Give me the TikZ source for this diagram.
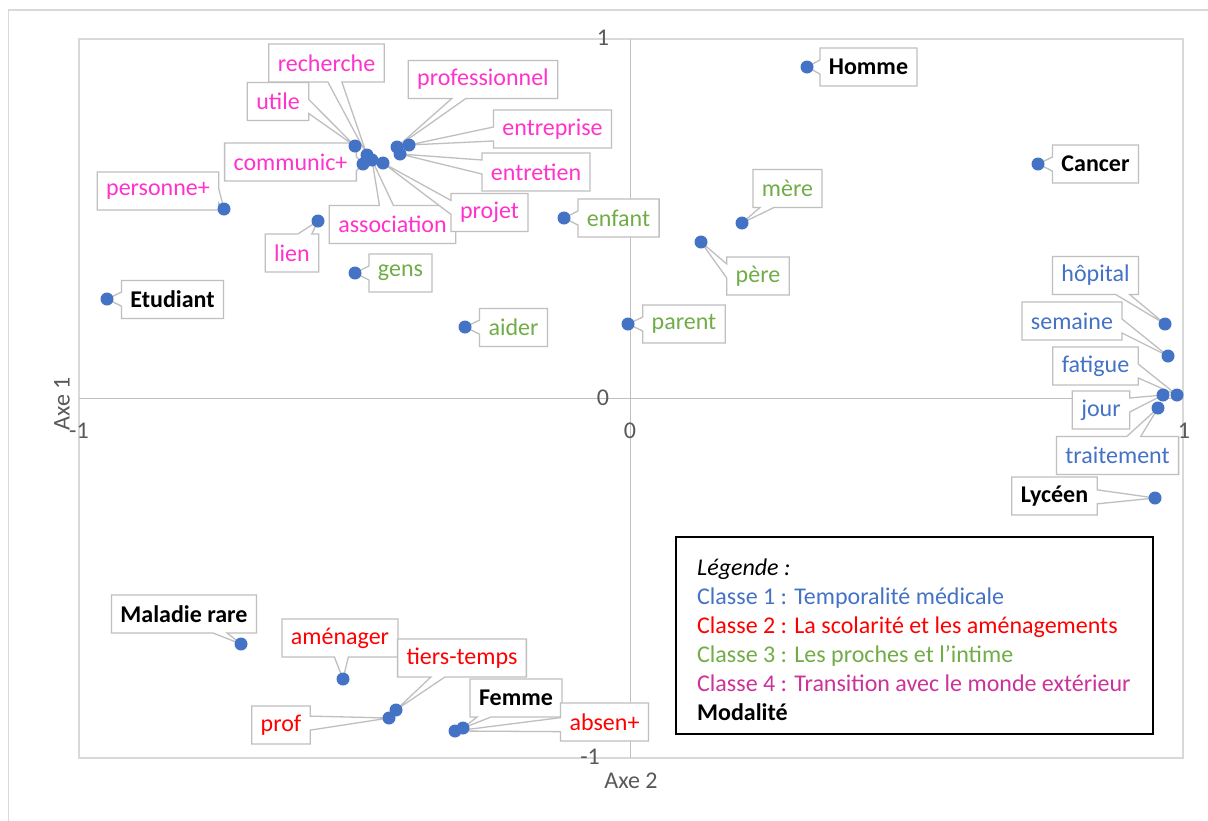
\documentclass[tikz,border=0pt]{standalone}
\usepackage{fontspec}
\setmainfont{Carlito}
\usetikzlibrary{shapes.callouts}
\definecolor{dotblue}{HTML}{4472C4}
\definecolor{labgray}{HTML}{BFBFBF}
\definecolor{framegray}{HTML}{D9D9D9}
\definecolor{axisgray}{HTML}{BFBFBF}
\definecolor{tickgray}{HTML}{595959}
\definecolor{pinkc}{HTML}{FF33CC}
\definecolor{legpink}{HTML}{CC3399}
\definecolor{greenc}{HTML}{70AD47}
\definecolor{bluec}{HTML}{4472C4}
\definecolor{redc}{HTML}{FF0000}
\newcommand{\labfont}{\fontsize{24}{28}\selectfont}
\begin{document}
\begin{tikzpicture}[x=1pt,y=-1pt,
  pt/.style={circle,fill=dotblue,inner sep=0pt,minimum size=13pt},
  lab/.style={rectangle callout,draw=labgray,fill=white,line width=1.3pt,
    inner xsep=9pt,inner ysep=2pt,minimum height=38pt,font=\labfont,
    callout pointer width=14pt},
  c4/.style={lab,text=pinkc},
  c3/.style={lab,text=greenc},
  c1/.style={lab,text=bluec},
  c2/.style={lab,text=redc},
  mo/.style={lab,text=black,font=\labfont\bfseries},
  tick/.style={text=tickgray,font=\labfont,inner sep=0pt},
  leg/.style={anchor=base west,font=\labfont,inner sep=0pt}]
\useasboundingbox (0,0) rectangle (1208,820);
\fill[white] (0,0) rectangle (1208,820);
% frames
\draw[framegray,line width=1.5pt] (8.5,10) rectangle (1220,840);
\draw[framegray,line width=1.5pt] (79,39) rectangle (1183,758);
% axes
\draw[axisgray,line width=1.5pt] (79,398.5) -- (1183,398.5);
\draw[axisgray,line width=1.5pt] (630.5,39) -- (630.5,758);
% tick labels
\node[tick] (ty1) at (603,38) {1};
\node[tick] (ty0) at (603,398) {0};
\node[tick] (tym) at (590,757) {-1};
\node[tick] (txm) at (79,431) {-1};
\node[tick] (tx0) at (630,431) {0};
\node[tick] (tx1) at (1184,431) {1};
\node[tick,rotate=90] (ax1) at (62,404) {Axe 1};
\node[tick] (ax2) at (631,781) {Axe 2};
% point positions
\coordinate (d1) at (224,209);
\coordinate (d2) at (318,221);
\coordinate (d3) at (355,146);
\coordinate (d4) at (367,155);
\coordinate (d5) at (363,164);
\coordinate (d6) at (372,160);
\coordinate (d7) at (383,163);
\coordinate (d8) at (397,147);
\coordinate (d9) at (409,145);
\coordinate (d10) at (400,154);
\coordinate (d11) at (355,273);
\coordinate (d12) at (465,327);
\coordinate (d13) at (564,218);
\coordinate (d14) at (742,223);
\coordinate (d15) at (701,242);
\coordinate (d16) at (628,324);
\coordinate (d17) at (107,299);
\coordinate (d18) at (807,67);
\coordinate (d19) at (1038,164);
\coordinate (d20) at (1155,498);
\coordinate (d21) at (241,644);
\coordinate (d22) at (463,728);
\coordinate (d23) at (1165,324);
\coordinate (d24) at (1168,356);
\coordinate (d25) at (1177,395);
\coordinate (d26) at (1163,395);
\coordinate (d27) at (1158,408);
\coordinate (d28) at (343,679);
\coordinate (d29) at (396,710);
\coordinate (d30) at (389,718);
\coordinate (d31) at (455,731);
% labels: classe 4
\node[c4,callout absolute pointer={(d1)}] (l1) at (158,191) {personne+};
\node[c4,callout absolute pointer={(d2)}] (l2) at (292,253) {lien};
\node[c4,callout absolute pointer={(d4)}] (l4) at (326.5,63) {recherche};
\node[c4,callout absolute pointer={(d3)}] (l3) at (278,101.5) {utile};
\node[c4,callout absolute pointer={(d5)}] (l5) at (290.5,162) {communic+};
\node[c4,callout absolute pointer={(d6)}] (l6) at (392.5,224.5) {association};
\node[c4,callout absolute pointer={(d7)}] (l7) at (489.5,212.5) {projet};
\node[c4,callout absolute pointer={(d8)}] (l8) at (483,79.5) {professionnel};
\node[c4,callout absolute pointer={(d9)}] (l9) at (552.5,129) {entreprise};
\node[c4,callout absolute pointer={(d10)}] (l10) at (536,172) {entretien};
% classe 3
\node[c3,callout absolute pointer={(d11)}] (l11) at (400.5,273) {gens};
\node[c3,callout absolute pointer={(d12)}] (l12) at (513.5,327.5) {aider};
\node[c3,callout absolute pointer={(d13)}] (l13) at (618.5,218) {enfant};
\node[c3,callout absolute pointer={(d14)}] (l14) at (787.5,188.5) {mère};
\node[c3,callout absolute pointer={(d15)}] (l15) at (758,276) {père};
\node[c3,callout absolute pointer={(d16)}] (l16) at (684,324) {parent};
% modalites
\node[mo,callout absolute pointer={(d17)}] (l17) at (172.5,299.5) {Etudiant};
\node[mo,callout absolute pointer={(d18)}] (l18) at (868.5,67) {Homme};
\node[mo,callout absolute pointer={(d19)}] (l19) at (1095.5,164) {Cancer};
\node[mo,callout absolute pointer={(d20)}] (l20) at (1054.5,496) {Lycéen};
\node[mo,callout absolute pointer={(d21)}] (l21) at (184,614) {Maladie rare};
\node[mo,callout absolute pointer={(d22)}] (l22) at (516,698) {Femme};
% classe 1
\node[c1,callout absolute pointer={(d23)}] (l23) at (1095.5,275.5) {hôpital};
\node[c1,callout absolute pointer={(d24)}] (l24) at (1072,321) {semaine};
\node[c1,callout absolute pointer={(d25)}] (l25) at (1095.5,366) {fatigue};
\node[c1,callout absolute pointer={(d26)}] (l26) at (1101,410) {jour};
\node[c1,callout absolute pointer={(d27)}] (l27) at (1117.5,455.5) {traitement};
% classe 2
\node[c2,callout absolute pointer={(d28)}] (l28) at (340,638) {aménager};
\node[c2,callout absolute pointer={(d29)}] (l29) at (462,658) {tiers-temps};
\node[c2,callout absolute pointer={(d30)}] (l30) at (281,725) {prof};
\node[c2,callout absolute pointer={(d31)}] (l31) at (604.5,722) {absen+};
% dots on top
\foreach \i in {1,...,31} {\node[pt] (p\i) at (d\i) {};}
% legend
\node[draw=black,line width=2pt,fill=white,inner sep=0pt,minimum width=477pt,minimum height=197pt] (legbox) at (914.5,635.5) {};
\node[leg] (g0) at (697,575) {\itshape Légende :};
\node[leg,text=bluec] (g1) at (697,604) {Classe 1 : Temporalité médicale};
\node[leg,text=redc] (g2) at (697,633) {Classe 2 : La scolarité et les aménagements};
\node[leg,text=greenc] (g3) at (697,662) {Classe 3 : Les proches et l’intime};
\node[leg,text=legpink] (g4) at (697,691) {Classe 4 : Transition avec le monde extérieur};
\node[leg] (g5) at (697,720) {\bfseries Modalité};
\end{tikzpicture}
\end{document}
